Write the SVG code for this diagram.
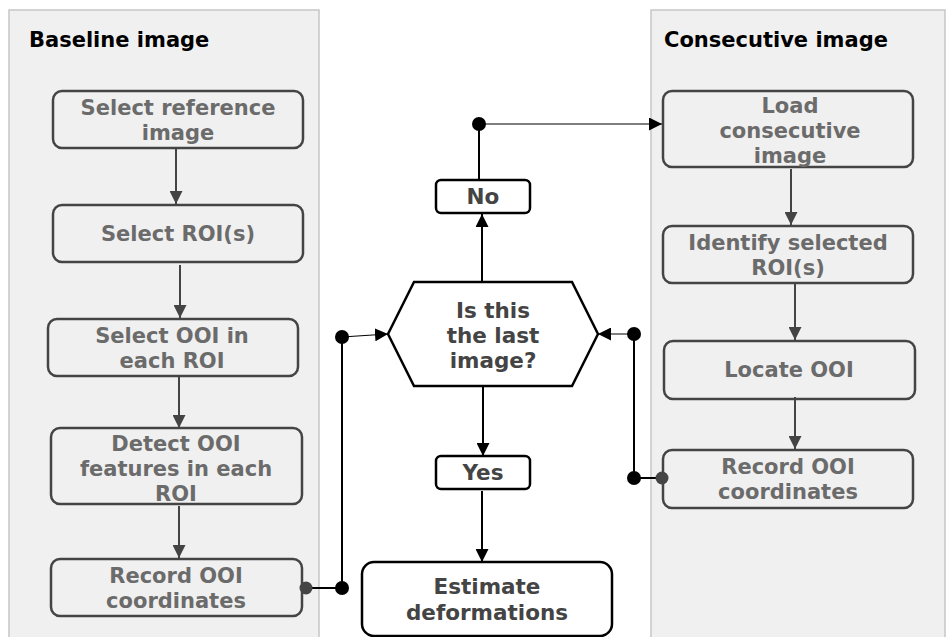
<svg xmlns="http://www.w3.org/2000/svg" width="946" height="637" viewBox="0 0 946 637">
  <defs>
    <style>
      .panel { fill: #f0f0f0; stroke: #c6c6c6; stroke-width: 1.5; }
      .step { fill: none; stroke: #444; stroke-width: 2.5; }
      .step-txt { font-family: "DejaVu Sans", Verdana, sans-serif; font-weight: bold; font-size: 21px; fill: #6b6b6b; text-anchor: middle; }
      .dark { fill: #fff; stroke: #000; stroke-width: 2.5; }
      .dark-txt { font-family: "DejaVu Sans", Verdana, sans-serif; font-weight: bold; font-size: 21.5px; fill: #444; text-anchor: middle; }
      .title { font-family: "DejaVu Sans", Verdana, sans-serif; font-weight: bold; font-size: 21px; fill: #000; }
      .flow { fill: none; stroke: #444; stroke-width: 2; }
      .link { fill: none; stroke: #000; stroke-width: 2; }
      .thin { fill: none; stroke: #000; stroke-width: 1.2; }
    </style>
    <marker id="arr-grey" viewBox="0 0 10 10" refX="10" refY="5" markerWidth="13" markerHeight="13" markerUnits="userSpaceOnUse" orient="auto">
      <path d="M0,0 L10,5 L0,10 Z" fill="#444"/>
    </marker>
    <marker id="arr-black" viewBox="0 0 10 10" refX="10" refY="5" markerWidth="13" markerHeight="13" markerUnits="userSpaceOnUse" orient="auto">
      <path d="M0,0 L10,5 L0,10 Z" fill="#000"/>
    </marker>
  </defs>

  <!-- swimlanes -->
  <g id="lane-baseline">
    <rect class="panel" x="9" y="10" width="310" height="640"/>
    <text class="title" x="29" y="47">Baseline image</text>
  </g>
  <g id="lane-consecutive">
    <rect class="panel" x="651" y="10" width="294" height="640"/>
    <text class="title" x="664" y="47">Consecutive image</text>
  </g>

  <!-- connectors -->
  <g id="connectors">
    <line class="flow" x1="176" y1="148" x2="176" y2="204" marker-end="url(#arr-grey)"/>
    <line class="flow" x1="180" y1="265" x2="180" y2="318" marker-end="url(#arr-grey)"/>
    <line class="flow" x1="179" y1="377" x2="179" y2="428" marker-end="url(#arr-grey)"/>
    <line class="flow" x1="179" y1="506" x2="179" y2="558" marker-end="url(#arr-grey)"/>

    <line class="flow" x1="791" y1="169" x2="791" y2="225" marker-end="url(#arr-grey)"/>
    <line class="flow" x1="795" y1="284" x2="795" y2="340" marker-end="url(#arr-grey)"/>
    <line class="flow" x1="795" y1="397" x2="795" y2="449" marker-end="url(#arr-grey)"/>

    <!-- baseline result into decision -->
    <polyline class="link" points="306,588 342,588 342,337"/>
    <line class="thin" x1="342" y1="337" x2="388" y2="334" marker-end="url(#arr-black)"/>
    <circle cx="306" cy="588" r="6.5" fill="#444"/>
    <circle cx="342" cy="588" r="7" fill="#000"/>
    <circle cx="342" cy="337" r="7" fill="#000"/>

    <!-- consecutive result into decision -->
    <polyline class="link" points="662,478 634,478 634,334"/>
    <line class="thin" x1="634" y1="334" x2="598" y2="334" marker-end="url(#arr-black)"/>
    <circle cx="662" cy="478" r="6.5" fill="#444"/>
    <circle cx="634" cy="478" r="7" fill="#000"/>
    <circle cx="634" cy="334" r="7" fill="#000"/>

    <!-- decision: no -->
    <line class="link" x1="482" y1="282" x2="482" y2="214" marker-end="url(#arr-black)"/>
    <line class="link" x1="479" y1="180" x2="479" y2="124"/>
    <line class="thin" x1="479" y1="124" x2="662" y2="124" marker-end="url(#arr-black)"/>
    <circle cx="479" cy="124" r="7" fill="#000"/>

    <!-- decision: yes -->
    <line class="link" x1="483" y1="386" x2="483" y2="456" marker-end="url(#arr-black)"/>
    <line class="link" x1="482" y1="491" x2="482" y2="562" marker-end="url(#arr-black)"/>
  </g>

  <!-- baseline steps -->
  <g id="select-reference">
    <rect class="step" x="53" y="91" width="250" height="57" rx="9"/>
    <text class="step-txt" x="178" y="115">Select reference</text>
    <text class="step-txt" x="178" y="140">image</text>
  </g>
  <g id="select-roi">
    <rect class="step" x="53" y="205" width="250" height="57" rx="9"/>
    <text class="step-txt" x="178" y="241">Select ROI(s)</text>
  </g>
  <g id="select-ooi">
    <rect class="step" x="48" y="319" width="250" height="57" rx="9"/>
    <text class="step-txt" x="172" y="343">Select OOI in</text>
    <text class="step-txt" x="172" y="368">each ROI</text>
  </g>
  <g id="detect-features">
    <rect class="step" x="51" y="428" width="251" height="76" rx="9"/>
    <text class="step-txt" x="176" y="451">Detect OOI</text>
    <text class="step-txt" x="176" y="476">features in each</text>
    <text class="step-txt" x="176" y="501">ROI</text>
  </g>
  <g id="record-baseline">
    <rect class="step" x="51" y="559" width="251" height="57" rx="9"/>
    <text class="step-txt" x="176" y="583">Record OOI</text>
    <text class="step-txt" x="176" y="608">coordinates</text>
  </g>

  <!-- consecutive steps -->
  <g id="load-consecutive">
    <rect class="step" x="663" y="91" width="250" height="76" rx="9"/>
    <text class="step-txt" x="790" y="113">Load</text>
    <text class="step-txt" x="790" y="138">consecutive</text>
    <text class="step-txt" x="790" y="163">image</text>
  </g>
  <g id="identify-roi">
    <rect class="step" x="663" y="226" width="250" height="57" rx="9"/>
    <text class="step-txt" x="788" y="250">Identify selected</text>
    <text class="step-txt" x="788" y="275">ROI(s)</text>
  </g>
  <g id="locate-ooi">
    <rect class="step" x="664" y="341" width="251" height="58" rx="9"/>
    <text class="step-txt" x="789" y="377">Locate OOI</text>
  </g>
  <g id="record-consecutive">
    <rect class="step" x="663" y="450" width="250" height="58" rx="9"/>
    <text class="step-txt" x="788" y="474">Record OOI</text>
    <text class="step-txt" x="788" y="499">coordinates</text>
  </g>

  <!-- decision and outcomes -->
  <g id="last-image">
    <polygon class="dark" points="414,282 572,282 598,334 572,386 414,386 388,334"/>
    <text class="dark-txt" x="493" y="318">Is this</text>
    <text class="dark-txt" x="493" y="343">the last</text>
    <text class="dark-txt" x="493" y="368">image?</text>
  </g>
  <g id="no">
    <rect class="dark" x="436" y="180" width="94" height="33" rx="5"/>
    <text class="dark-txt" x="483" y="204">No</text>
  </g>
  <g id="yes">
    <rect class="dark" x="436" y="456" width="94" height="33" rx="5"/>
    <text class="dark-txt" x="483" y="480">Yes</text>
  </g>
  <g id="estimate">
    <rect class="dark" x="362" y="562" width="250" height="74" rx="12"/>
    <text class="dark-txt" x="487" y="594">Estimate</text>
    <text class="dark-txt" x="487" y="620">deformations</text>
  </g>
</svg>
